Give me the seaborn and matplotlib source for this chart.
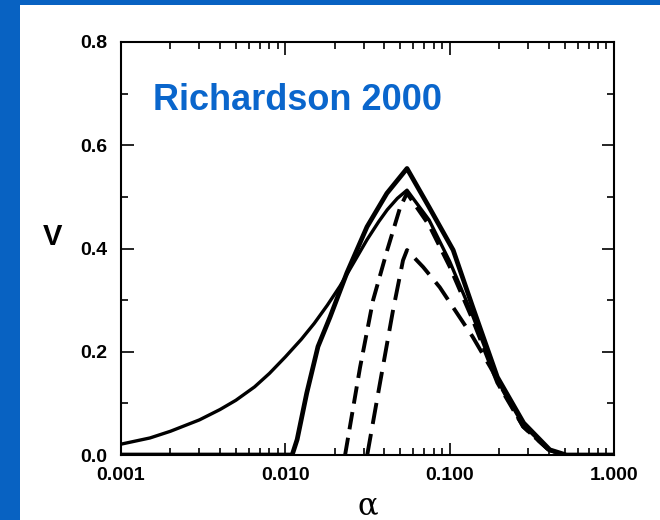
import numpy as np
import pandas as pd
import matplotlib
matplotlib.use("Agg")
import matplotlib.pyplot as plt
import matplotlib.ticker as mticker
from matplotlib.patches import Rectangle
import seaborn as sns

# curves (alpha, V)
thick_a = [0.001, 0.0110, 0.0118, 0.0135, 0.0158, 0.0187, 0.0237, 0.0314, 0.0415, 0.055,
           0.075, 0.105, 0.138, 0.195, 0.282, 0.407, 0.513, 1.0]
thick_v = [0.0, 0.0, 0.03, 0.12, 0.21, 0.267, 0.353, 0.442, 0.507, 0.555,
           0.48, 0.397, 0.287, 0.151, 0.062, 0.01, 0.0, 0.0]

thin_a = [0.001, 0.0015, 0.002, 0.003, 0.004, 0.005, 0.0065, 0.008, 0.010, 0.0125,
          0.015, 0.018, 0.0215, 0.026, 0.0314, 0.037, 0.0417, 0.048, 0.055,
          0.075, 0.1, 0.138, 0.195, 0.28, 0.40, 0.5, 1.0]
thin_v = [0.021, 0.033, 0.046, 0.068, 0.088, 0.106, 0.132, 0.158, 0.19, 0.224,
          0.255, 0.29, 0.327, 0.372, 0.417, 0.452, 0.475, 0.497, 0.513,
          0.455, 0.375, 0.27, 0.145, 0.058, 0.01, 0.0, 0.0]

dash1_a = [0.0231, 0.0285, 0.0342, 0.0417, 0.050, 0.055, 0.075, 0.1, 0.138, 0.195, 0.28, 0.40, 0.5]
dash1_v = [0.0, 0.17, 0.30, 0.397, 0.48, 0.507, 0.445, 0.365, 0.262, 0.14, 0.055, 0.01, 0.0]

dash2_a = [0.0315, 0.0377, 0.0452, 0.052, 0.055, 0.069, 0.087, 0.138, 0.177, 0.22, 0.28, 0.40, 0.5]
dash2_v = [0.0, 0.14, 0.28, 0.377, 0.397, 0.364, 0.325, 0.229, 0.17, 0.115, 0.055, 0.01, 0.0]

x_ticks = [0.001, 0.01, 0.1, 1.0]
x_labels = ["0.001", "0.010", "0.100", "1.000"]
y_ticks = [0.0, 0.2, 0.4, 0.6, 0.8]
y_labels = ["0.0", "0.2", "0.4", "0.6", "0.8"]

sns.set_theme(style="ticks")
plt.rcParams["font.family"] = ["Liberation Sans", "DejaVu Sans"]
plt.rcParams["text.color"] = "black"

fig = plt.figure(figsize=(6.6, 5.2), dpi=100)
fig.patch.set_facecolor("#0862c2")
# white slide area
fig.add_artist(Rectangle((20 / 660, 0), 1, 515 / 520, transform=fig.transFigure,
                         facecolor="white", edgecolor="none", zorder=0))

ax = fig.add_axes([121 / 660, 1 - 455 / 520, (614 - 121) / 660, (455 - 42) / 520])
ax.set_facecolor("white")

curves = [
    (thick_a, thick_v, 3.4, "-"),
    (thin_a, thin_v, 2.4, "-"),
    (dash1_a, dash1_v, 2.8, (0, (4.5, 2.2))),
    (dash2_a, dash2_v, 2.8, (0, (5.5, 2.6))),
]
for xs, ys, lw, ls in curves:
    df = pd.DataFrame({"alpha": xs, "V": ys})
    sns.lineplot(data=df, x="alpha", y="V", ax=ax, color="black", linewidth=lw,
                 linestyle=ls, estimator=None, sort=False)

ax.set_xscale("log")
ax.set_xlim(0.001, 1.0)
ax.set_ylim(0.0, 0.8)
ax.xaxis.set_major_locator(mticker.FixedLocator(x_ticks))
ax.xaxis.set_major_formatter(mticker.FixedFormatter(x_labels))
ax.xaxis.set_minor_locator(mticker.LogLocator(base=10, subs=np.arange(2, 10)))
ax.xaxis.set_minor_formatter(mticker.NullFormatter())
ax.yaxis.set_major_locator(mticker.FixedLocator(y_ticks))
ax.yaxis.set_major_formatter(mticker.FixedFormatter(y_labels))
ax.yaxis.set_minor_locator(mticker.MultipleLocator(0.1))

ax.tick_params(which="both", direction="in", top=True, right=True, color="black", width=1.2)
ax.tick_params(which="major", length=9, labelsize=14, labelcolor="black")
ax.tick_params(which="minor", length=5)
ax.tick_params(axis="y", pad=10)
ax.tick_params(axis="x", pad=9)
for lab in ax.get_xticklabels() + ax.get_yticklabels():
    lab.set_fontweight("bold")
for sp in ax.spines.values():
    sp.set_visible(True)
    sp.set_color("black")
    sp.set_linewidth(1.5)

ax.set_xlabel("α", fontsize=22, family="DejaVu Serif", color="black", labelpad=4)
ax.set_ylabel("")
fig.text(52 / 660, 1 - 237 / 520, "V", fontsize=21, fontweight="bold", color="black",
         ha="center", va="center")
ax.text(153 / 660, 1 - 101 / 520, "Richardson 2000", transform=fig.transFigure,
        fontsize=26, fontweight="bold", color="#0a66cc", ha="left", va="center")

fig.savefig("out.png", dpi=100, facecolor=fig.get_facecolor())
